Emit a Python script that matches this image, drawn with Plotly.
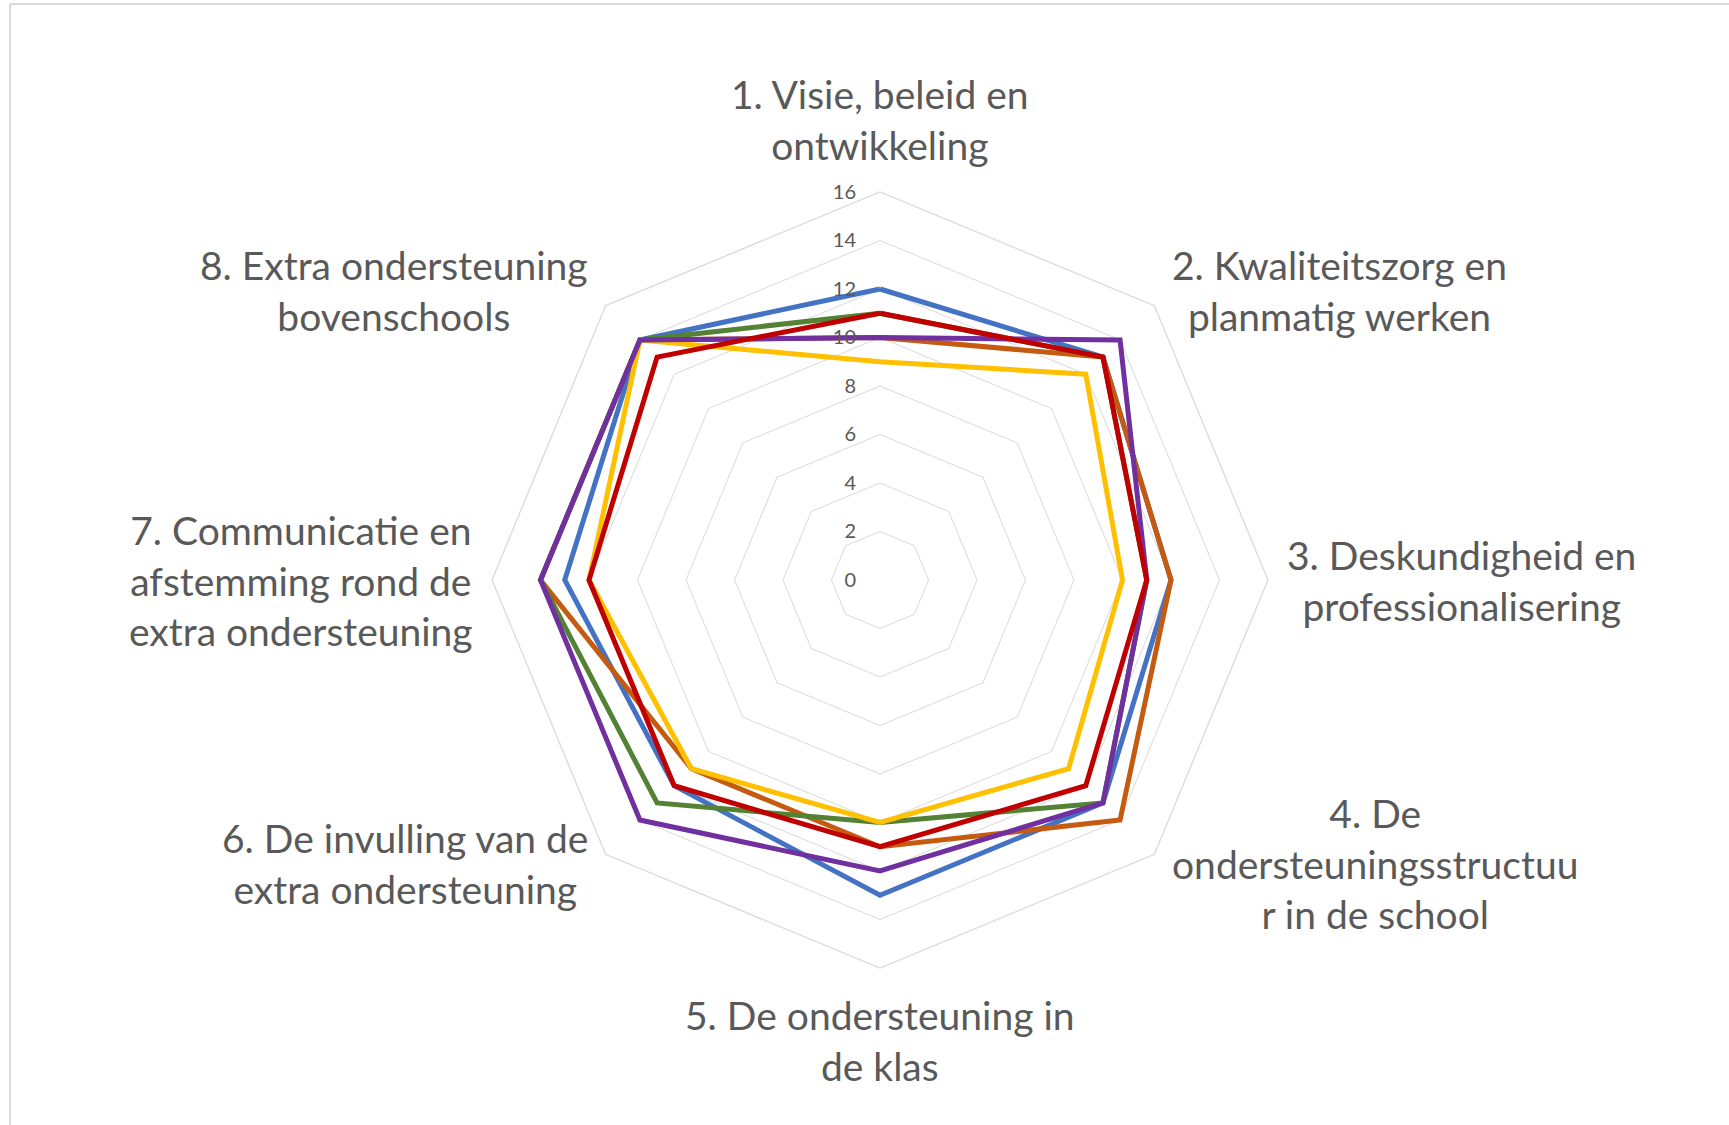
import math
import plotly.graph_objects as go

categories = [
    "1. Visie, beleid en<br>ontwikkeling",
    "2. Kwaliteitszorg en<br>planmatig werken",
    "3. Deskundigheid en<br>professionalisering",
    "4. De<br>ondersteuningsstructuu<br>r in de school",
    "5. De ondersteuning in<br>de klas",
    "6. De invulling van de<br>extra ondersteuning",
    "7. Communicatie en<br>afstemming rond de<br>extra ondersteuning",
    "8. Extra ondersteuning<br>bovenschools",
]

series_names = ["Reeks1", "Reeks2", "Reeks3", "Reeks4", "Reeks5", "Reeks6"]
reeks1 = [12, 13, 12, 13, 13, 12, 13, 14]
reeks2 = [10, 13, 12, 14, 11, 11, 14, 14]
reeks3 = [11, 13, 11, 13, 10, 13, 14, 14]
reeks4 = [9, 12, 10, 11, 10, 11, 12, 14]
reeks5 = [10, 14, 11, 13, 12, 14, 14, 14]
reeks6 = [11, 13, 11, 12, 11, 12, 12, 13]
series_values = [reeks1, reeks2, reeks3, reeks4, reeks5, reeks6]
series_colors = ["#4472C4", "#C55A11", "#548235", "#FFC000", "#7030A0", "#C00000"]

radial_ticks = [0, 2, 4, 6, 8, 10, 12, 14, 16]

W, H = 1729, 1125
cx, cy, R = 880, 580, 388

# tick labels: right-aligned a little to the left of the vertical axis
PAD = "\u00a0" * 4
radial_text = [str(v) + PAD for v in radial_ticks]

fig = go.Figure()
for name, vals, col in zip(series_names, series_values, series_colors):
    fig.add_trace(go.Scatterpolar(
        r=vals + vals[:1],
        theta=categories + categories[:1],
        mode="lines",
        name=name,
        line=dict(color=col, width=5),
        showlegend=False,
        hoverinfo="skip",
    ))

# category labels, centred multi-line text just outside the outer polygon
annotations = []
n = len(categories)
for i, cat in enumerate(categories):
    a = 2 * math.pi * i / n
    s, c = math.sin(a), math.cos(a)
    off = 22 if abs(c) > 0.1 else 17
    px = cx + (R + off) * s
    py = cy - (R + off) * c
    if s > 0.1:
        xa = "left"
    elif s < -0.1:
        xa = "right"
    else:
        xa = "center"
    if c > 0.9:
        ya = "bottom"
    elif c < -0.9:
        ya = "top"
    else:
        ya = "middle"
    ys = 6 if (c < -0.1 and abs(s) > 0.1) else 0
    annotations.append(dict(
        text=cat, x=px / W, y=1 - py / H, xref="paper", yref="paper",
        xanchor=xa, yanchor=ya, align="center", showarrow=False, yshift=ys,
        font=dict(size=39, color="#595959", family="Lato"),
    ))

fig.update_layout(
    width=W, height=H,
    margin=dict(l=0, r=0, t=0, b=0),
    paper_bgcolor="white",
    plot_bgcolor="white",
    font=dict(family="Lato", color="#595959"),
    polar=dict(
        domain=dict(x=[(cx - R) / W, (cx + R) / W],
                    y=[(H - cy - R) / H, (H - cy + R) / H]),
        bgcolor="white",
        gridshape="linear",
        radialaxis=dict(
            range=[0, 16],
            tickvals=radial_ticks,
            ticktext=radial_text,
            angle=90,
            tickangle=90,
            side="counterclockwise",
            showline=False,
            ticks="",
            gridcolor="#D9D9D9",
            gridwidth=1.3,
            tickfont=dict(size=20, color="#595959", family="Lato"),
        ),
        angularaxis=dict(
            direction="clockwise",
            rotation=90,
            showgrid=False,
            showline=True,
            linecolor="#D9D9D9",
            linewidth=1.3,
            ticks="",
            showticklabels=False,
        ),
    ),
    annotations=annotations,
    shapes=[
        dict(type="line", xref="paper", yref="paper",
             x0=10 / W, x1=1, y0=1 - 4 / H, y1=1 - 4 / H,
             line=dict(color="#D9D9D9", width=2)),
        dict(type="line", xref="paper", yref="paper",
             x0=10 / W, x1=10 / W, y0=0, y1=1 - 4 / H,
             line=dict(color="#D9D9D9", width=2)),
    ],
)

fig.write_html("out.html", config={"displayModeBar": False},
               post_script="document.body.style.margin='0';")
